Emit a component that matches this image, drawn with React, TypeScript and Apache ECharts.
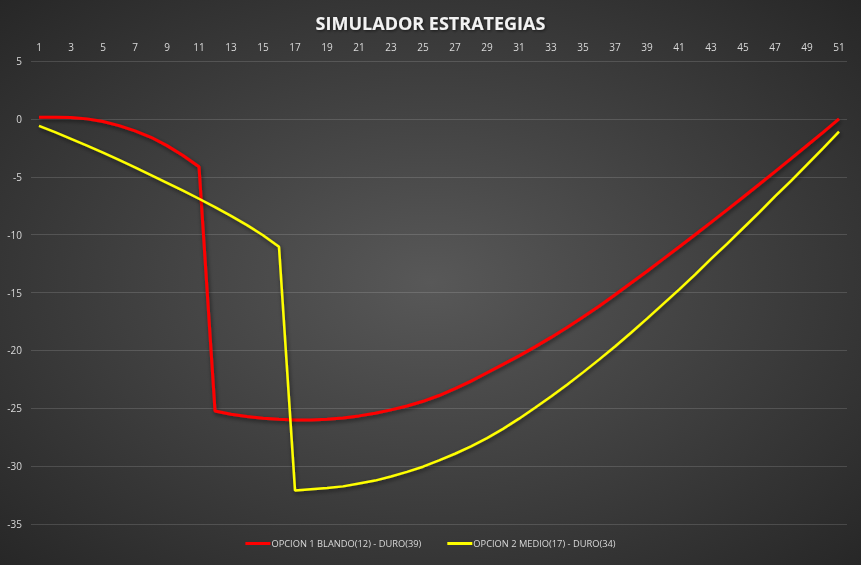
import React, { useEffect, useRef } from "react";
import * as echarts from "echarts";

const categories: string[] = Array.from({ length: 51 }, (_, i) => String(i + 1));

const opcion1: number[] = [
  0.14, 0.14, 0.12, 0.0, -0.23, -0.58, -1.04, -1.59, -2.31, -3.17,
  -4.13, -25.23, -25.52, -25.72, -25.87, -25.95, -26.01, -26.01, -25.95, -25.84,
  -25.66, -25.43, -25.14, -24.8, -24.4, -23.9, -23.3, -22.65, -21.93, -21.21,
  -20.47, -19.7, -18.88, -18.02, -17.12, -16.18, -15.2, -14.18, -13.16, -12.12,
  -11.07, -10.01, -8.94, -7.86, -6.77, -5.67, -4.56, -3.44, -2.3, -1.16,
  0.0,
];

const opcion2: number[] = [
  -0.6, -1.15, -1.72, -2.31, -2.92, -3.55, -4.2, -4.85, -5.52, -6.2,
  -6.9, -7.62, -8.38, -9.18, -10.05, -11.05, -32.1, -32.0, -31.9, -31.75,
  -31.5, -31.25, -30.9, -30.5, -30.05, -29.5, -28.93, -28.3, -27.58, -26.78,
  -25.9, -24.96, -23.98, -22.96, -21.9, -20.8, -19.66, -18.48, -17.26, -16.0,
  -14.75, -13.45, -12.1, -10.8, -9.45, -8.1, -6.7, -5.35, -3.95, -2.55,
  -1.1,
];

const seriesNames: string[] = [
  "OPCION 1 BLANDO(12) - DURO(39)",
  "OPCION 2 MEDIO(17) - DURO(34)",
];

const titleText = "SIMULADOR ESTRATEGIAS";

export default function App() {
  const ref = useRef<HTMLDivElement>(null);

  useEffect(() => {
    if (!ref.current) return;
    const chart = echarts.init(ref.current, undefined, { renderer: "svg" });
    const font = "'Open Sans', 'Noto Sans', sans-serif";
    const lineShadow = {
      shadowBlur: 4,
      shadowColor: "rgba(0,0,0,0.55)",
      shadowOffsetX: 1,
      shadowOffsetY: 2,
    };
    chart.setOption({
      animation: false,
      backgroundColor: {
        type: "radial",
        x: 0.5,
        y: 0.5,
        r: 0.72,
        colorStops: [
          { offset: 0, color: "#585858" },
          { offset: 1, color: "#262626" },
        ],
      },
      title: {
        text: titleText,
        left: "center",
        top: 9,
        textStyle: {
          color: "#f2f2f2",
          fontSize: 18,
          fontWeight: "bold",
          fontFamily: font,
          textShadowColor: "rgba(0,0,0,0.6)",
          textShadowBlur: 3,
          textShadowOffsetX: 1,
          textShadowOffsetY: 1,
        },
      },
      legend: {
        bottom: 12,
        left: "center",
        icon: "rect",
        itemWidth: 25,
        itemHeight: 3,
        itemGap: 26,
        textStyle: {
          color: "#d9d9d9",
          fontSize: 9.3,
          fontFamily: font,
          padding: [0, 0, 0, -4],
        },
        data: seriesNames,
      },
      grid: { left: 31, right: 14, top: 61, bottom: 41, containLabel: false },
      xAxis: {
        type: "category",
        position: "top",
        data: categories,
        boundaryGap: true,
        axisLine: { show: false },
        axisTick: { show: false },
        axisLabel: {
          interval: 1,
          color: "#d9d9d9",
          fontSize: 10,
          fontFamily: font,
          margin: 9,
        },
        splitLine: { show: false },
      },
      yAxis: {
        type: "value",
        min: -35,
        max: 5,
        interval: 5,
        axisLine: { show: false },
        axisTick: { show: false },
        axisLabel: { color: "#d9d9d9", fontSize: 10, fontFamily: font, margin: 9 },
        splitLine: { lineStyle: { color: "rgba(255,255,255,0.14)", width: 1 } },
      },
      series: [
        {
          name: seriesNames[0],
          type: "line",
          data: opcion1,
          symbol: "none",
          lineStyle: { color: "#ff0000", width: 3, ...lineShadow },
          itemStyle: { color: "#ff0000" },
        },
        {
          name: seriesNames[1],
          type: "line",
          data: opcion2,
          symbol: "none",
          lineStyle: { color: "#ffff00", width: 2.5, ...lineShadow },
          itemStyle: { color: "#ffff00" },
        },
      ],
    });
    return () => chart.dispose();
  }, []);

  return (
    <div
      ref={ref}
      style={{ position: "fixed", left: 0, top: 0, width: 861, height: 565 }}
    />
  );
}
